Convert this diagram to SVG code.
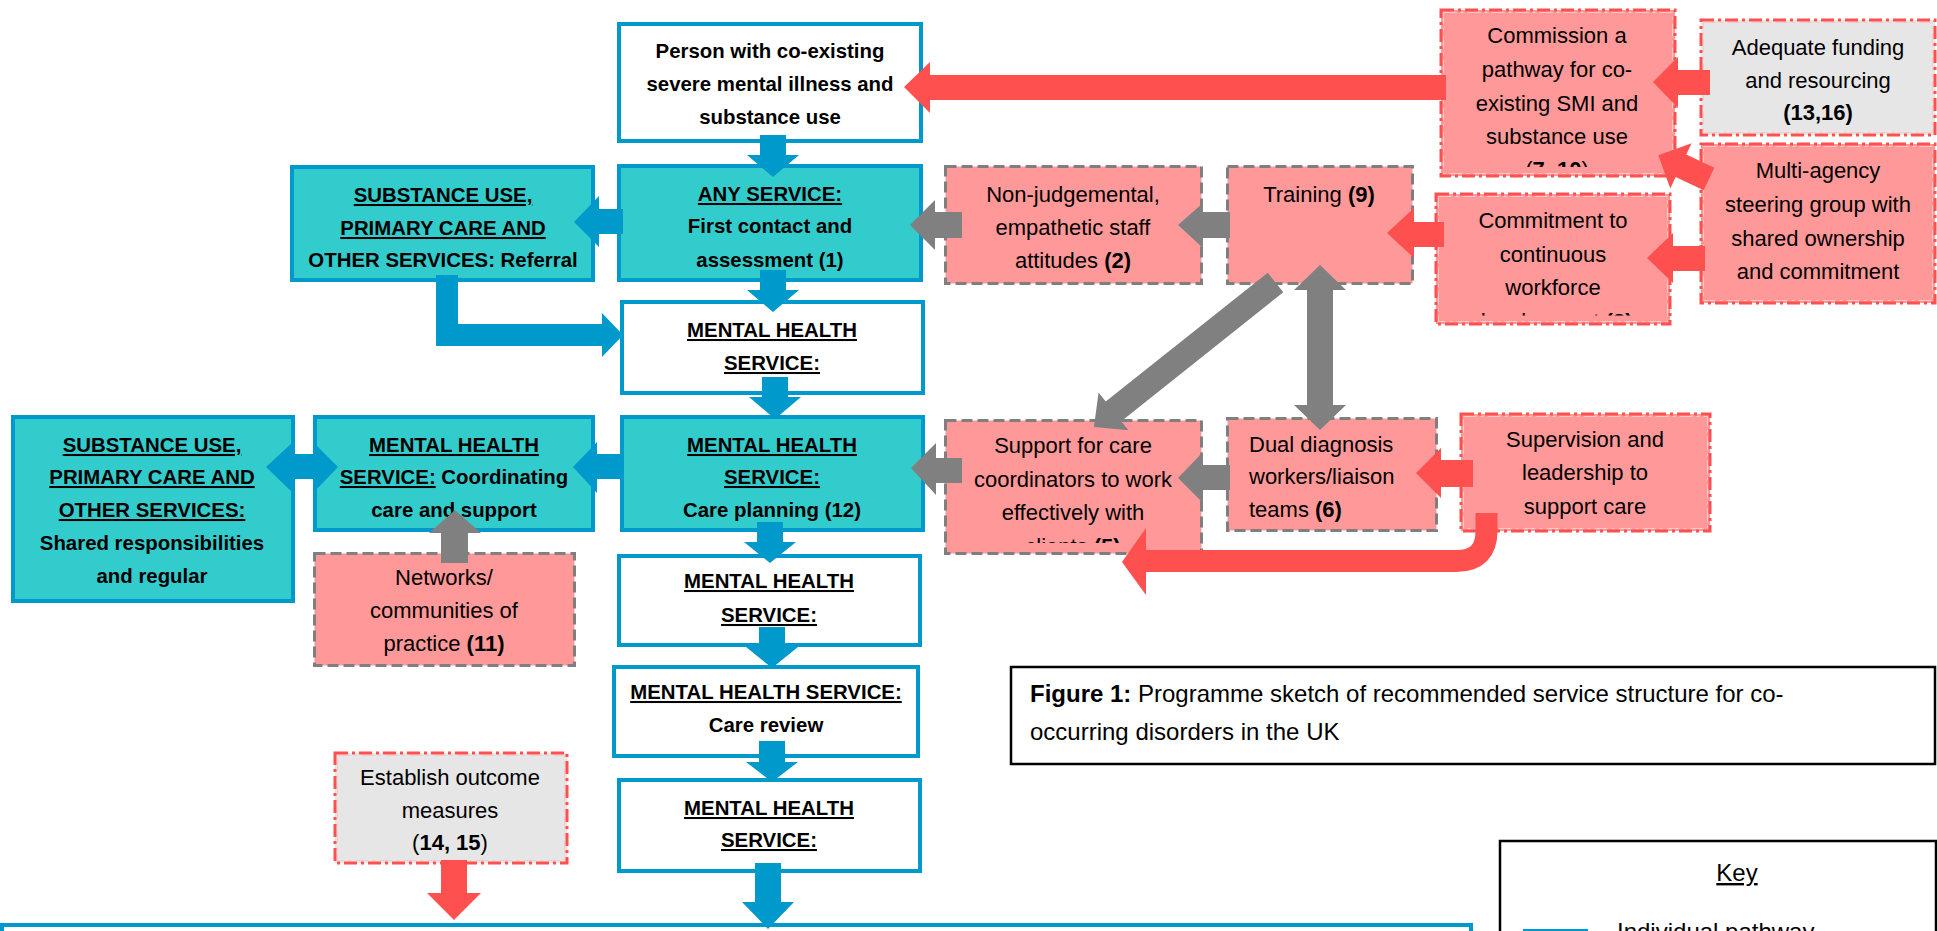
<svg xmlns="http://www.w3.org/2000/svg" width="1937" height="931" viewBox="0 0 1937 931">
<style>
.bl{fill:#FFFFFF;stroke:#0099CC;stroke-width:4}
.tl{fill:#33CCCC;stroke:#0099CC;stroke-width:4}
.pd{fill:#FF9999;stroke:#7F7F7F;stroke-width:3;stroke-dasharray:11 5}
.pr{fill:#FF9999;stroke:#FF5050;stroke-width:3;stroke-dasharray:13 4 3 4}
.gr{fill:#E6E6E6;stroke:#FF5050;stroke-width:3;stroke-dasharray:13 4 3 4}
.dd{fill:none;stroke:#FFC8C8;stroke-width:1;stroke-dasharray:13 4 3 4}
.cap{fill:#FFFFFF;stroke:#000000;stroke-width:2.5}
text{font-family:"Liberation Sans",Arial,sans-serif;fill:#000000}
.b{font-weight:bold;font-size:20.4px;text-anchor:middle}
.r{font-size:22px;text-anchor:middle}
.rl{font-size:22px}
.u{text-decoration:underline}
.bw{font-weight:bold}
.ab{fill:#0099CC}
.ar{fill:#FF5050}
.ag{fill:#808080}
</style>
<defs>
<clipPath id="cComm"><rect x="1440" y="0" width="240" height="167"/></clipPath>
<clipPath id="cCommit"><rect x="1430" y="190" width="245" height="125.5"/></clipPath>
<clipPath id="cSupp"><rect x="940" y="415" width="270" height="128"/></clipPath>
</defs>

<!-- main pathway nodes -->
<g id="person">
<rect class="bl" x="619" y="24" width="302" height="117"/>
<text class="b" x="770" y="58">Person with co-existing</text>
<text class="b" x="770" y="91">severe mental illness and</text>
<text class="b" x="770" y="124">substance use</text>
</g>
<g id="any-service">
<rect class="tl" x="619" y="166" width="302" height="114"/>
<text class="b" x="770" y="201"><tspan class="u">ANY SERVICE:</tspan></text>
<text class="b" x="770" y="233">First contact and</text>
<text class="b" x="770" y="267">assessment (1)</text>
</g>
<g id="referral">
<rect class="tl" x="292" y="167" width="301" height="113"/>
<text class="b" x="443" y="202"><tspan class="u">SUBSTANCE USE,</tspan></text>
<text class="b" x="443" y="235"><tspan class="u">PRIMARY CARE AND</tspan></text>
<text class="b" x="443" y="267">OTHER SERVICES: Referral</text>
</g>
<g id="mh1">
<rect class="bl" x="622" y="302" width="301" height="91"/>
<text class="b" x="772" y="337"><tspan class="u">MENTAL HEALTH</tspan></text>
<text class="b" x="772" y="370"><tspan class="u">SERVICE:</tspan></text>
</g>
<g id="care-planning">
<rect class="tl" x="622" y="417" width="301" height="113"/>
<text class="b" x="772" y="452"><tspan class="u">MENTAL HEALTH</tspan></text>
<text class="b" x="772" y="484"><tspan class="u">SERVICE:</tspan></text>
<text class="b" x="772" y="517">Care planning (12)</text>
</g>
<g id="coordinating">
<rect class="tl" x="315" y="417" width="278" height="113"/>
<text class="b" x="454" y="452"><tspan class="u">MENTAL HEALTH</tspan></text>
<text class="b" x="454" y="484"><tspan class="u">SERVICE:</tspan> Coordinating</text>
<text class="b" x="454" y="517">care and support</text>
</g>
<g id="shared">
<rect class="tl" x="13" y="417" width="280" height="184"/>
<text class="b" x="152" y="452"><tspan class="u">SUBSTANCE USE,</tspan></text>
<text class="b" x="152" y="484"><tspan class="u">PRIMARY CARE AND</tspan></text>
<text class="b" x="152" y="517"><tspan class="u">OTHER SERVICES:</tspan></text>
<text class="b" x="152" y="550">Shared responsibilities</text>
<text class="b" x="152" y="583">and regular</text>
</g>
<g id="mh2">
<rect class="bl" x="619" y="556" width="301" height="89"/>
<text class="b" x="769" y="588"><tspan class="u">MENTAL HEALTH</tspan></text>
<text class="b" x="769" y="622"><tspan class="u">SERVICE:</tspan></text>
</g>
<g id="care-review">
<rect class="bl" x="614" y="667" width="304" height="89"/>
<text class="b" x="766" y="699"><tspan class="u">MENTAL HEALTH SERVICE:</tspan></text>
<text class="b" x="766" y="732">Care review</text>
</g>
<g id="mh3">
<rect class="bl" x="619" y="780" width="301" height="91"/>
<text class="b" x="769" y="815"><tspan class="u">MENTAL HEALTH</tspan></text>
<text class="b" x="769" y="847"><tspan class="u">SERVICE:</tspan></text>
</g>
<g id="bottom-bar">
<rect class="bl" x="2" y="925" width="1469" height="60"/>
</g>

<!-- enabling factor nodes -->
<g id="non-judgemental">
<rect class="pd" x="945.5" y="166.5" width="256" height="117"/>
<text class="r" x="1073" y="202">Non-judgemental,</text>
<text class="r" x="1073" y="235">empathetic staff</text>
<text class="r" x="1073" y="268">attitudes <tspan class="bw">(2)</tspan></text>
</g>
<g id="training">
<rect class="pd" x="1227.5" y="166.5" width="185" height="117"/>
<text class="r" x="1319" y="202">Training <tspan class="bw">(9)</tspan></text>
</g>
<g id="commission">
<rect class="pr" x="1441" y="10" width="234" height="166"/>
<rect class="dd" x="1443.5" y="12.5" width="229" height="161"/>
<g clip-path="url(#cComm)">
<text class="r" x="1557" y="43">Commission a</text>
<text class="r" x="1557" y="77">pathway for co-</text>
<text class="r" x="1557" y="111">existing SMI and</text>
<text class="r" x="1557" y="144">substance use</text>
<text class="r" x="1557" y="177">(<tspan class="bw">7, 10</tspan>)</text>
</g>
</g>
<g id="funding">
<rect class="gr" x="1701" y="20" width="234" height="115"/>
<rect class="dd" x="1703.5" y="22.5" width="229" height="110"/>
<text class="r" x="1818" y="55">Adequate funding</text>
<text class="r" x="1818" y="88">and resourcing</text>
<text class="r bw" x="1818" y="120">(13,16)</text>
</g>
<g id="steering">
<rect class="pr" x="1701" y="144" width="234" height="159"/>
<rect class="dd" x="1703.5" y="146.5" width="229" height="154"/>
<text class="r" x="1818" y="178">Multi-agency</text>
<text class="r" x="1818" y="212">steering group with</text>
<text class="r" x="1818" y="246">shared ownership</text>
<text class="r" x="1818" y="279">and commitment</text>
</g>
<g id="workforce">
<rect class="pr" x="1436" y="194" width="234" height="130"/>
<rect class="dd" x="1438.5" y="196.5" width="229" height="125"/>
<g clip-path="url(#cCommit)">
<text class="r" x="1553" y="228">Commitment to</text>
<text class="r" x="1553" y="262">continuous</text>
<text class="r" x="1553" y="295">workforce</text>
<text class="r" x="1553" y="329">development <tspan class="bw">(3)</tspan></text>
</g>
</g>
<g id="support">
<rect class="pd" x="945.5" y="420.5" width="256" height="133"/>
<g clip-path="url(#cSupp)">
<text class="r" x="1073" y="453">Support for care</text>
<text class="r" x="1073" y="487">coordinators to work</text>
<text class="r" x="1073" y="520">effectively with</text>
<text class="r" x="1073" y="554">clients <tspan class="bw">(5)</tspan></text>
</g>
</g>
<g id="dual-diagnosis">
<rect class="pd" x="1227.5" y="418.5" width="209" height="112"/>
<text class="rl" x="1249" y="452">Dual diagnosis</text>
<text class="rl" x="1249" y="484">workers/liaison</text>
<text class="rl" x="1249" y="517">teams <tspan class="bw">(6)</tspan></text>
</g>
<g id="supervision">
<rect class="pr" x="1461" y="414" width="249" height="117"/>
<rect class="dd" x="1463.5" y="416.5" width="244" height="112"/>
<text class="r" x="1585" y="447">Supervision and</text>
<text class="r" x="1585" y="480">leadership to</text>
<text class="r" x="1585" y="514">support care</text>
</g>
<g id="networks">
<rect class="pd" x="314.5" y="553.5" width="260" height="112"/>
<text class="r" x="444" y="585">Networks/</text>
<text class="r" x="444" y="618">communities of</text>
<text class="r" x="444" y="651">practice <tspan class="bw">(11)</tspan></text>
</g>
<g id="outcomes">
<rect class="gr" x="335" y="753" width="232" height="110"/>
<rect class="dd" x="337.5" y="755.5" width="227" height="105"/>
<text class="r" x="450" y="785">Establish outcome</text>
<text class="r" x="450" y="818">measures</text>
<text class="r" x="450" y="850">(<tspan class="bw">14, 15</tspan>)</text>
</g>

<!-- caption and key -->
<g id="caption">
<rect class="cap" x="1011" y="667" width="924" height="97"/>
<text x="1030" y="702" style="font-size:24px"><tspan class="bw">Figure 1:</tspan> Programme sketch of recommended service structure for co-</text>
<text x="1030" y="740" style="font-size:24px">occurring disorders in the UK</text>
</g>
<g id="key">
<rect class="cap" x="1500" y="841" width="436" height="200"/>
<text x="1737" y="881" style="font-size:24px;text-anchor:middle"><tspan class="u">Key</tspan></text>
<rect x="1523" y="929" width="65" height="8" fill="#0099CC"/>
<text x="1617" y="940" style="font-size:24px">Individual pathway</text>
</g>

<!-- connectors -->
<g id="connectors">
<!-- blue pathway arrows -->
<polygon class="ab" points="760,135 786,135 786,155 799,155 773,177 747,155 760,155"/>
<polygon class="ab" points="760,270 786,270 786,290 799,290 773,312 747,290 760,290"/>
<polygon class="ab" points="762,377 788,377 788,397 801,397 775,419 749,397 762,397"/>
<polygon class="ab" points="757,522 783,522 783,542 796,542 770,563 744,542 757,542"/>
<polygon class="ab" points="759,627 785,627 785,647 798,647 772,668 746,647 759,647"/>
<polygon class="ab" points="759,741 785,741 785,762 798,762 772,782 746,762 759,762"/>
<polygon class="ab" points="755,863 781,863 781,902 794,902 768,929 742,902 755,902"/>
<polygon class="ab" points="623,209 599,209 599,196 574,222 599,247 599,234 623,234"/>
<polygon class="ab" points="622,454 597,454 597,442 573,467 597,493 597,479 622,479"/>
<polygon class="ab" points="293,454 313,454 313,442 338,467 313,493 313,479 293,479 293,493 266,467 293,442"/>
<polygon class="ab" points="436,275 458,275 458,324 602,324 602,313 623,335 602,357 602,346 436,346"/>
<!-- red arrows -->
<polygon class="ar" points="1446,75 930,75 930,62 904,87 930,113 930,100 1446,100"/>
<polygon class="ar" points="1710,70 1678,70 1678,57 1653,82 1678,108 1678,95 1710,95"/>
<polygon class="ar" transform="translate(1709,179) rotate(205.2)" points="0,-12.5 31,-12.5 31,-25 56,0 31,25 31,12.5 0,12.5"/>
<polygon class="ar" points="1705,246 1673,246 1673,233 1647,258 1673,283 1673,271 1705,271"/>
<polygon class="ar" points="1444,222 1414,222 1414,208 1387,233 1414,258 1414,247 1444,247"/>
<polygon class="ar" points="1473,460 1441,460 1441,448 1416,473 1441,498 1441,487 1473,487"/>
<path d="M1486.5,513 V531 Q1486.5,561 1456.5,561 H1140" fill="none" stroke="#FF5050" stroke-width="22"/>
<polygon class="ar" points="1146,528 1122,562 1146,595"/>
<polygon class="ar" points="441,860 467,860 467,893 481,893 454,920 427,893 441,893"/>
<!-- grey arrows -->
<polygon class="ag" points="962,212 935,212 935,200 910,225 935,250 935,238 962,238"/>
<polygon class="ag" points="1230,212 1203,212 1203,203 1178,225 1203,248 1203,238 1230,238"/>
<polygon class="ag" transform="translate(1275.5,282.5) rotate(141.5)" points="0,-12.5 207,-12.5 207,-24 232,0 207,24 207,12.5 0,12.5"/>
<polygon class="ag" points="1320,265 1346,290 1333,290 1333,405 1346,405 1320,430 1294,405 1307,405 1307,290 1294,290"/>
<polygon class="ag" points="1230,465 1203,465 1203,452 1178,478 1203,503 1203,490 1230,490"/>
<polygon class="ag" points="962,458 936,458 936,443 911,468 936,495 936,483 962,483"/>
<polygon class="ag" points="441,563 468,563 468,533 481,533 455,510 429,533 441,533"/>
</g>
</svg>
